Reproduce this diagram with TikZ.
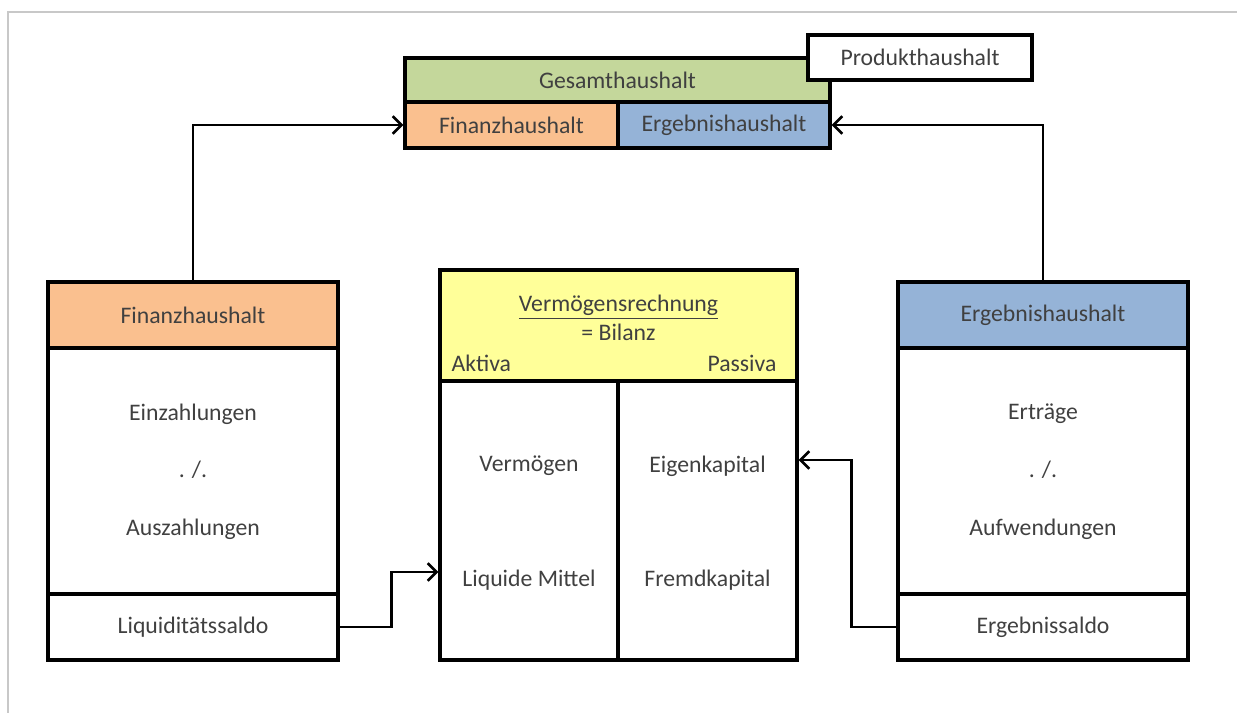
\documentclass[tikz,border=0pt]{standalone}
\usepackage{fontspec}
\setmainfont{Carlito}
\usepackage{xcolor}
\definecolor{GreenHead}{HTML}{C4D79B}
\definecolor{OrangeHead}{HTML}{FAC08F}
\definecolor{BlueHead}{HTML}{95B3D7}
\definecolor{YellowHead}{HTML}{FFFF99}
\definecolor{TextGray}{HTML}{404040}
\definecolor{FrameGray}{HTML}{C8C8C8}
\usepackage{tikz}
\usetikzlibrary{arrows.meta, positioning}
\tikzset{
  cell/.style={
    rectangle, draw=black, line width=1.8pt,
    minimum width=#1, inner sep=0pt,
    font=\fontsize{13.5}{16.5}\selectfont, text=TextGray
  },
  cell/.default=5.8cm,
  lbl/.style={font=\fontsize{13.5}{16.5}\selectfont, text=TextGray, align=center},
  arr/.style={-{Straight Barb[length=5pt, width=10pt]}, line width=1.5pt},
}

\begin{document}
\begin{tikzpicture}
\useasboundingbox (0,0) rectangle (24.74,-14.26);

% thin page frame
\draw[FrameGray, line width=0.6pt] (24.74,-0.24) -- (0.16,-0.24) -- (0.16,-14.26);

% Gesamthaushalt on top
\node[cell=8.5cm, fill=GreenHead, minimum height=0.88cm] at (12.35,-1.60) (ges) {Gesamthaushalt};
\node[cell=4.26cm, fill=OrangeHead, minimum height=0.92cm] at (10.23,-2.50) (gfh) {Finanzhaushalt};
\node[cell=4.24cm, fill=BlueHead, minimum height=0.92cm] at (14.48,-2.50) (geh) {Ergebnishaushalt};
\node[cell=4.48cm, fill=white, minimum height=0.90cm] at (18.40,-1.15) (pk) {Produkthaushalt};

% left column: Finanzhaushalt
\node[cell, fill=OrangeHead, minimum height=1.32cm] at (3.86,-6.30) (fh) {Finanzhaushalt};
\node[cell, minimum height=4.92cm] at (3.86,-9.42) (fbody) {};
\node[lbl] at (3.86,-8.28) (ez) {Einzahlungen};
\node[lbl] at (3.86,-9.40) (fminus) {. /.};
\node[lbl] at (3.86,-10.58) (az) {Auszahlungen};
\node[cell, minimum height=1.32cm] at (3.86,-12.54) (ls) {Liquiditätssaldo};

% right column: Ergebnishaushalt
\node[cell, fill=BlueHead, minimum height=1.32cm] at (20.86,-6.30) (eh) {Ergebnishaushalt};
\node[cell, minimum height=4.92cm] at (20.86,-9.42) (ebody) {};
\node[lbl] at (20.86,-8.28) (ert) {Erträge};
\node[lbl] at (20.86,-9.40) (eminus) {. /.};
\node[lbl] at (20.86,-10.58) (aufw) {Aufwendungen};
\node[cell, minimum height=1.32cm] at (20.86,-12.54) (es) {Ergebnissaldo};

% middle: Vermoegensrechnung
\node[cell=7.14cm, fill=YellowHead, minimum height=2.22cm] at (12.37,-6.51) (vr) {};
\node[lbl] at (12.37,-6.36) (vrt) {\underline{Vermögensrechnung}\\= Bilanz};
\node[lbl, anchor=south west] at ([shift={(0.14,0.10)}]vr.south west) (akt) {Aktiva};
\node[lbl, anchor=south east] at ([shift={(-0.32,0.10)}]vr.south east) (pas) {Passiva};
\node[cell=3.56cm, minimum height=5.58cm] at (10.58,-10.41) (verm) {};
\node[cell=3.58cm, minimum height=5.58cm] at (14.15,-10.41) (kap) {};
\node[lbl] at (10.58,-9.32) (vm) {Vermögen};
\node[lbl] at (10.58,-11.60) (lm) {Liquide Mittel};
\node[lbl] at (14.15,-9.32) (ek) {Eigenkapital};
\node[lbl] at (14.15,-11.60) (fk) {Fremdkapital};

% connectors
\draw[arr] (fh.north) |- (gfh.west);
\draw[arr] (eh.north) |- (geh.east);
\draw[arr] (ls.east) -- ++(1.04,0) |- ([yshift=0.16cm]lm.center -| verm.west);
\draw[arr] (es.west) -- ++(-0.90,0) |- ([yshift=0.12cm]ek.center -| kap.east);

\end{tikzpicture}
\end{document}
